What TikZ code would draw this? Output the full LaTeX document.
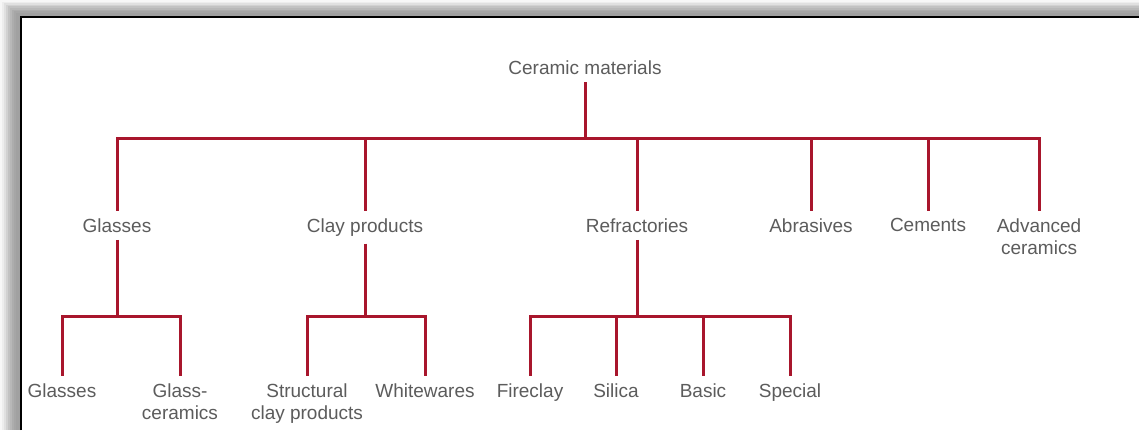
\documentclass[tikz,border=0pt]{standalone}
\usepackage{fontspec}
\setmainfont{Liberation Sans}
\usepackage{tikz}
\definecolor{treered}{RGB}{168,22,44}
\definecolor{labelgray}{RGB}{92,92,92}

\begin{document}
\begin{tikzpicture}[x=0.5pt, y=-0.5pt,
        cat/.style = {text=labelgray, font=\fontsize{9.5}{11}\selectfont, align=center, inner sep=3.5pt, anchor=north},
        link/.style = {draw=treered, line width=1.5pt}]
            \useasboundingbox (0,0) rectangle (1139,430);
            % frame with shadow
            \foreach \i/\g in {0/3,2/7,4/12,6/18,8/24,10/28,12/32,14/35,16/37}
                \fill[black!\g] (\i,0.8*\i) rectangle (1139,430);
            \fill[white] (21,17) rectangle (1139,430);
            \draw[line width=1pt] (21,430) -- (21,17) -- (1139,17);

            \node[cat, anchor=south] (CM) at (585,82) {Ceramic materials};

            \node[cat] (G) at (117,211) {Glasses};
            \node[cat] (CP) at (365,211) {Clay products};
            \node[cat] (R) at (637,211) {Refractories};
            \node[cat] (A) at (811,211) {Abrasives};
            \node[cat] (C) at (928,211) {Cements};
            \node[cat] (AC) at (1039,211) {Advanced\\ceramics};

            \node[cat] (GG) at (62,376) {Glasses};
            \node[cat] (GC) at (180,376) {Glass-\\ceramics};
            \node[cat] (SC) at (307,376) {Structural\\clay products};
            \node[cat] (W) at (425,376) {Whitewares};
            \node[cat] (F) at (530,376) {Fireclay};
            \node[cat] (S) at (616,376) {Silica};
            \node[cat] (B) at (703,376) {Basic};
            \node[cat] (SP) at (790,376) {Special};

            \coordinate (top) at (585,138);
            \coordinate (gj) at (117,316);
            \coordinate (cj) at (365,316);
            \coordinate (rj) at (637,316);

            \path[link] (CM) -- (top);
            \foreach \n in {G,CP,R,A,C,AC}
                \path[link] (top) -| (\n.north);

            \path[link] (G) -- (gj);
            \path[link] (gj) -| (GG.north);
            \path[link] (gj) -| (GC.north);

            \path[link] (CP) -- (cj);
            \path[link] (cj) -| (SC.north);
            \path[link] (cj) -| (W.north);

            \path[link] (R) -- (rj);
            \foreach \n in {F,S,B,SP}
                \path[link] (rj) -| (\n.north);
        \end{tikzpicture}
\end{document}
